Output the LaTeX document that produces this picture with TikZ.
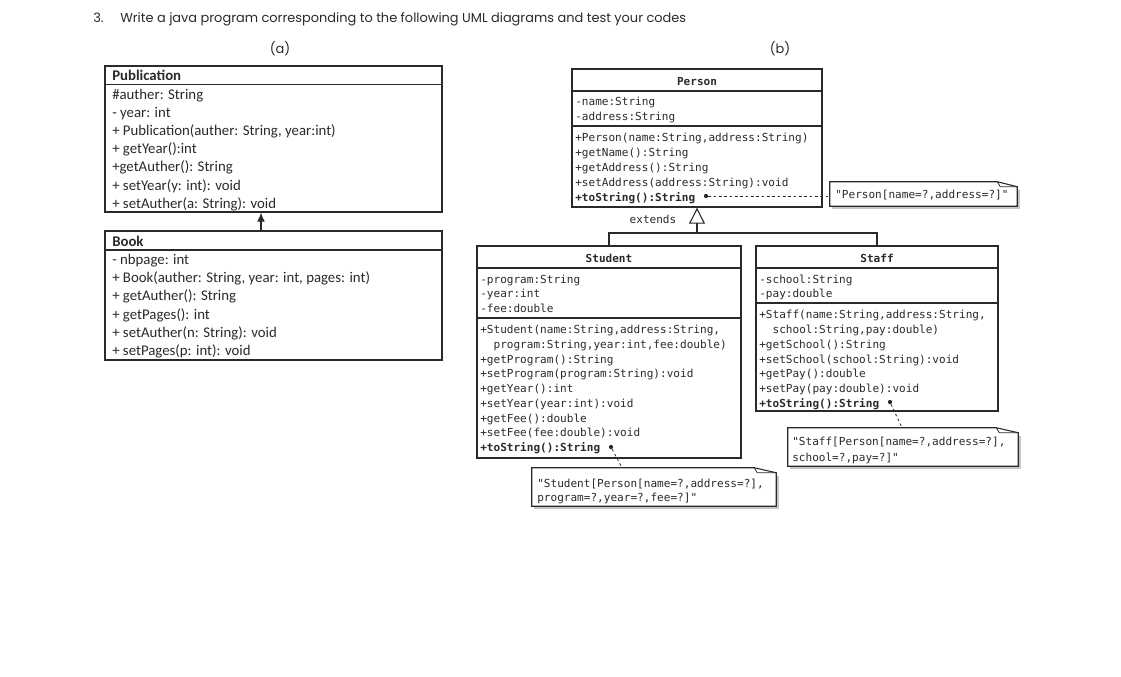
\documentclass[tikz,border=0pt]{standalone}
\usepackage{fontspec}
\setmainfont{Carlito}
\newfontfamily\titlefont{Poppins}
\newfontfamily\monofont{DejaVu Sans Mono}
\usetikzlibrary{fit,arrows.meta}
\definecolor{ink}{HTML}{2A2A2A}
\begin{document}
\begin{tikzpicture}[x=0.75pt,y=-0.75pt,
  umlbox/.style={draw=ink, line width=1pt, inner sep=0pt},
  sepline/.style={draw=ink, line width=0.8pt},
  ta/.style={anchor=base west, inner sep=0pt, font=\fontsize{11.1}{13}\selectfont, text=ink},
  tab/.style={ta, font=\fontsize{11.1}{13}\selectfont\bfseries},
  tm/.style={anchor=base west, inner sep=0pt, font=\monofont\fontsize{8.3}{10}\selectfont, text=ink},
  tmb/.style={tm, font=\monofont\fontsize{8.3}{10}\selectfont\bfseries},
  tmh/.style={anchor=base, inner sep=0pt, font=\monofont\fontsize{8.3}{10}\selectfont\bfseries, text=ink},
  tt/.style={anchor=base west, inner sep=0pt, font=\titlefont\fontsize{9.7}{12}\selectfont, text=ink},
  notebox/.style={inner sep=0pt},
  dotnode/.style={circle, fill=ink, inner sep=0pt, minimum size=3.2pt},
  dashln/.style={draw=ink, dashed, dash pattern=on 2pt off 2pt, line width=0.6pt},
  shadowln/.style={draw=gray!45, line width=1.2pt},
  noteline/.style={draw=ink, line width=0.8pt, fill=white},
  foldln/.style={draw=ink, line width=0.6pt},
]
\useasboundingbox (0,0) rectangle (1121,676);
\fill[white] (0,0) rectangle (1121,676);

% ---------- title ----------
\node[tt] (num) at (93,22) {3.};
\node[tt] (title) at (120,22) {Write a java program corresponding to the following UML diagrams and test your codes};
\node[tt, anchor=base] (la) at (280,53) {(a)};
\node[tt, anchor=base] (lb) at (780,53) {(b)};

% ---------- (a) Publication ----------
\node[umlbox, fit={(105,66)(442,212)}] (pub) {};
\draw[sepline] (105,84.5) -- (442,84.5);
\node[tab] (pub0) at (112,80) {Publication};
\node[ta] (pub1) at (112,99) {\#auther: String};
\node[ta] (pub2) at (112,117) {- year: int};
\node[ta] (pub3) at (112,135) {+ Publication(auther: String, year:int)};
\node[ta] (pub4) at (112,153) {+ getYear():int};
\node[ta] (pub5) at (112,171) {+getAuther(): String};
\node[ta] (pub6) at (112,190) {+ setYear(y: int): void};
\node[ta] (pub7) at (112,208) {+ setAuther(a: String): void};

% ---------- (a) Book ----------
\node[umlbox, fit={(105,231)(442,360)}] (book) {};
\draw[sepline] (105,250) -- (442,250);
\node[tab] (bk0) at (112,246) {Book};
\node[ta] (bk1) at (112,264) {- nbpage: int};
\node[ta] (bk2) at (112,282) {+ Book(auther: String, year: int, pages: int)};
\node[ta] (bk3) at (112,300) {+ getAuther(): String};
\node[ta] (bk4) at (112,319) {+ getPages(): int};
\node[ta] (bk5) at (112,337) {+ setAuther(n: String): void};
\node[ta] (bk6) at (112,355) {+ setPages(p: int): void};

\coordinate (arrx) at (261,0);
\draw[draw=ink, line width=0.9pt, -{Latex[length=9pt*0.75, width=8pt*0.75]}] (book.north -| arrx) -- (pub.south -| arrx);

% ---------- (b) Person ----------
\node[umlbox, fit={(572,69)(822,207)}] (person) {};
\draw[sepline] (572,91) -- (822,91);
\draw[sepline] (572,126) -- (822,126);
\node[tmh] (ps0) at (697,85) {Person};
\node[tm] (ps1) at (575,105) {-name:String};
\node[tm] (ps2) at (575,120) {-address:String};
\node[tm] (ps3) at (575,141) {+Person(name:String,address:String)};
\node[tm] (ps4) at (575,156) {+getName():String};
\node[tm] (ps5) at (575,171) {+getAddress():String};
\node[tm] (ps6) at (575,186) {+setAddress(address:String):void};
\node[tmb] (ps7) at (575,201) {+toString():String};
\node[dotnode] (pdot) at (706,196) {};

% Person note
\node[notebox, fit={(830,182)(1017,206)}] (pnote) {};
\draw[shadowln] ([shift={(2,8)}]pnote.north east) -- ([shift={(2,2)}]pnote.south east) -- ([shift={(2,2)}]pnote.south west);
\draw[noteline] (pnote.south west) -- (pnote.north west) -- ([shift={(-20,0)}]pnote.north east) -- ([shift={(0,5)}]pnote.north east) -- (pnote.south east) -- cycle;
\draw[foldln] ([shift={(-20,0)}]pnote.north east) -- ([shift={(-17,5)}]pnote.north east) -- ([shift={(0,5)}]pnote.north east);
\node[tm] (pn1) at (835,198) {"Person[name=?,address=?]"};
\draw[dashln] (pdot) -- (pnote.west |- pdot);

% ---------- (b) Student ----------
\node[umlbox, fit={(477,246)(741,458)}] (student) {};
\draw[sepline] (477,268) -- (741,268);
\draw[sepline] (477,318) -- (741,318);
\node[tmh] (st0) at (609,262) {Student};
\node[tm] (st1) at (480,283) {-program:String};
\node[tm] (st2) at (480,297) {-year:int};
\node[tm] (st3) at (480,312) {-fee:double};
\node[tm] (st4) at (480,333) {+Student(name:String,address:String,};
\node[tm] (st5) at (480,348) {\ \ program:String,year:int,fee:double)};
\node[tm] (st6) at (480,363) {+getProgram():String};
\node[tm] (st7) at (480,377) {+setProgram(program:String):void};
\node[tm] (st8) at (480,392) {+getYear():int};
\node[tm] (st9) at (480,407) {+setYear(year:int):void};
\node[tm] (st10) at (480,422) {+getFee():double};
\node[tm] (st11) at (480,436) {+setFee(fee:double):void};
\node[tmb] (st12) at (480,451) {+toString():String};
\node[dotnode] (sdot) at (611,447) {};

% Student note
\node[notebox, fit={(532,468)(776,506)}] (snote) {};
\draw[shadowln] ([shift={(2,8)}]snote.north east) -- ([shift={(2,2)}]snote.south east) -- ([shift={(2,2)}]snote.south west);
\draw[noteline] (snote.south west) -- (snote.north west) -- ([shift={(-22,0)}]snote.north east) -- ([shift={(0,5)}]snote.north east) -- (snote.south east) -- cycle;
\draw[foldln] ([shift={(-22,0)}]snote.north east) -- ([shift={(-19,5)}]snote.north east) -- ([shift={(0,5)}]snote.north east);
\node[tm] (sn1) at (537,487) {"Student[Person[name=?,address=?],};
\node[tm] (sn2) at (537,501) {program=?,year=?,fee=?]"};
\coordinate (snt) at (622,0);
\draw[dashln] (sdot) -- (snote.north -| snt);

% ---------- (b) Staff ----------
\node[umlbox, fit={(756,246)(998,411)}] (staff) {};
\draw[sepline] (756,268) -- (998,268);
\draw[sepline] (756,303) -- (998,303);
\node[tmh] (sf0) at (877,262) {Staff};
\node[tm] (sf1) at (759,283) {-school:String};
\node[tm] (sf2) at (759,297) {-pay:double};
\node[tm] (sf3) at (759,318) {+Staff(name:String,address:String,};
\node[tm] (sf4) at (759,333) {\ \ school:String,pay:double)};
\node[tm] (sf5) at (759,348) {+getSchool():String};
\node[tm] (sf6) at (759,363) {+setSchool(school:String):void};
\node[tm] (sf7) at (759,377) {+getPay():double};
\node[tm] (sf8) at (759,392) {+setPay(pay:double):void};
\node[tmb] (sf9) at (759,407) {+toString():String};
\node[dotnode] (fdot) at (890,402) {};

% Staff note
\node[notebox, fit={(788,428)(1018,466)}] (fnote) {};
\draw[shadowln] ([shift={(2,8)}]fnote.north east) -- ([shift={(2,2)}]fnote.south east) -- ([shift={(2,2)}]fnote.south west);
\draw[noteline] (fnote.south west) -- (fnote.north west) -- ([shift={(-22,0)}]fnote.north east) -- ([shift={(0,5)}]fnote.north east) -- (fnote.south east) -- cycle;
\draw[foldln] ([shift={(-22,0)}]fnote.north east) -- ([shift={(-19,5)}]fnote.north east) -- ([shift={(0,5)}]fnote.north east);
\node[tm] (fn1) at (792,445) {"Staff[Person[name=?,address=?],};
\node[tm] (fn2) at (792,461) {school=?,pay=?]"};
\coordinate (fnt) at (902,0);
\draw[dashln] (fdot) -- (fnote.north -| fnt);

% ---------- generalisation ----------
\coordinate (jn) at (697,233);
\coordinate (stx) at (609,0);
\coordinate (sfx) at (877,0);
\draw[draw=ink, line width=0.8pt] (student.north -| stx) |- (jn) -| (staff.north -| sfx);
\draw[draw=ink, line width=0.8pt, -{Triangle[open, length=16pt*0.75, width=16pt*0.75]}] (jn) -- (person.south -| jn);
\node[tm, anchor=base] (ext) at (653,223) {extends};

\end{tikzpicture}
\end{document}
